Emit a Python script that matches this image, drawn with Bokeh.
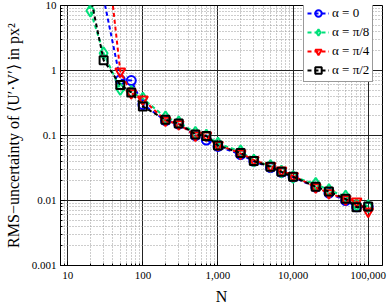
from bokeh.plotting import figure
from bokeh.models import Range1d, FixedTicker, NumeralTickFormatter, Legend, LegendItem
from bokeh.embed import file_html
from bokeh.resources import INLINE

# ---- data ----
N_a0 = [30, 50, 70, 100, 200, 300, 500, 700, 1000, 2000, 3000, 5000, 7000,
        10000, 20000, 30000, 50000, 70000, 100000]
rms_a0 = [13, 0.72, 0.70, 0.30, 0.17, 0.15, 0.10, 0.085, 0.068, 0.051, 0.040,
          0.032, 0.027, 0.023, 0.016, 0.013, 0.010, 0.0080, 0.0080]

N_a8 = [10, 20, 30, 50, 70, 100, 200, 300, 500, 700, 1000, 2000, 3000, 5000,
        7000, 10000, 20000, 30000, 50000, 70000, 100000]
rms_a8 = [500, 8.3, 1.84, 0.52, 0.47, 0.37, 0.19, 0.16, 0.11, 0.10, 0.075,
          0.057, 0.041, 0.034, 0.028, 0.023, 0.018, 0.0145, 0.0115, 0.0085, 0.0082]

N_a4 = [30, 50, 70, 100, 200, 300, 500, 700, 1000, 2000, 3000, 5000, 7000,
        10000, 20000, 30000, 50000, 70000, 100000]
rms_a4 = [190, 0.97, 0.45, 0.36, 0.17, 0.15, 0.10, 0.10, 0.072, 0.053, 0.042,
          0.034, 0.029, 0.024, 0.016, 0.013, 0.0105, 0.0097, 0.0068]

N_a2 = [20, 30, 50, 70, 100, 200, 300, 500, 700, 1000, 2000, 3000, 5000, 7000,
        10000, 20000, 30000, 50000, 70000, 100000]
rms_a2 = [14, 1.44, 0.60, 0.46, 0.28, 0.174, 0.153, 0.104, 0.098, 0.070, 0.054,
          0.0405, 0.033, 0.0276, 0.0232, 0.0163, 0.0137, 0.0106, 0.0079, 0.0081]

labels = ["α = 0", "α = π/8", "α = π/4", "α = π/2"]
colors = ["#0000ff", "#00e07a", "#ff0000", "#000000"]
markers = ["circle", "diamond", "inverted_triangle", "square"]
sizes = [9, 12, 10, 8]

x_ticks = [10, 100, 1000, 10000, 100000]
y_ticks = [0.001, 0.01, 0.1, 1, 10]

SERIF = "Liberation Serif"

p = figure(width=388, height=307, x_axis_type="log", y_axis_type="log",
           output_backend="svg", toolbar_location=None,
           x_range=Range1d(8, 155000), y_range=Range1d(0.001, 10),
           min_border_left=60, min_border_right=6, min_border_top=5,
           min_border_bottom=39)

p.outline_line_color = "black"
p.outline_line_width = 1
p.background_fill_color = "white"
p.border_fill_color = "white"

def minors(lo, hi):
    out = []
    d = lo
    while d < hi:
        for k in range(2, 10):
            out.append(d * k)
        d *= 10
    return out

p.xaxis.ticker = FixedTicker(ticks=x_ticks, minor_ticks=minors(1, 1e6))
p.yaxis.ticker = FixedTicker(ticks=y_ticks, minor_ticks=minors(1e-4, 100))
p.xaxis.formatter = NumeralTickFormatter(format="0,0")
p.yaxis.formatter = NumeralTickFormatter(format="0.[000]")

for ax in (p.xaxis, p.yaxis):
    ax.major_label_text_font = SERIF
    ax.major_label_text_font_size = "11px"
    ax.major_label_text_color = "black"
    ax.axis_label_text_font = SERIF
    ax.axis_label_text_font_size = "16px"
    ax.axis_label_text_font_style = "normal"
    ax.axis_label_text_color = "black"
    ax.axis_line_color = "black"
    ax.major_tick_line_color = "black"
    ax.minor_tick_line_color = "black"
    ax.major_tick_in = 4
    ax.major_tick_out = 0
    ax.minor_tick_in = 2
    ax.minor_tick_out = 0

p.xaxis.axis_label = "N"
p.yaxis.axis_label = "RMS−uncertainty of ⟨U′·V′⟩ in px²"
p.xaxis.major_label_standoff = 6
p.yaxis.major_label_standoff = 4
p.xaxis.axis_label_standoff = 6
p.yaxis.axis_label_standoff = 7

for g in (p.xgrid, p.ygrid):
    g.grid_line_color = "#222222"
    g.grid_line_width = 1
    g.minor_grid_line_color = "#9a9a9a"
    g.minor_grid_line_dash = "1 2"
    g.minor_grid_line_width = 1

series = [(N_a0, rms_a0), (N_a8, rms_a8), (N_a4, rms_a4), (N_a2, rms_a2)]
items = []
for (xs, ys), lab, col, mk, sz in zip(series, labels, colors, markers, sizes):
    r1 = p.line(xs, ys, line_color=col, line_width=2, line_dash="4 3")
    r2 = p.scatter(xs, ys, marker=mk, size=sz, line_color=col, line_width=2,
                   fill_color=None)
    items.append(LegendItem(label=lab, renderers=[r1, r2]))

legend = Legend(items=items, location=(243, 183), margin=0,
                label_text_font=SERIF, label_text_font_size="13px",
                label_text_color="black",
                glyph_width=22, glyph_height=16, label_height=16,
                label_standoff=3, spacing=3, padding=3,
                border_line_color="#333333", border_line_width=1,
                background_fill_color="white", background_fill_alpha=1.0)
p.add_layout(legend)

open("out.html", "w").write(file_html(p, INLINE))
